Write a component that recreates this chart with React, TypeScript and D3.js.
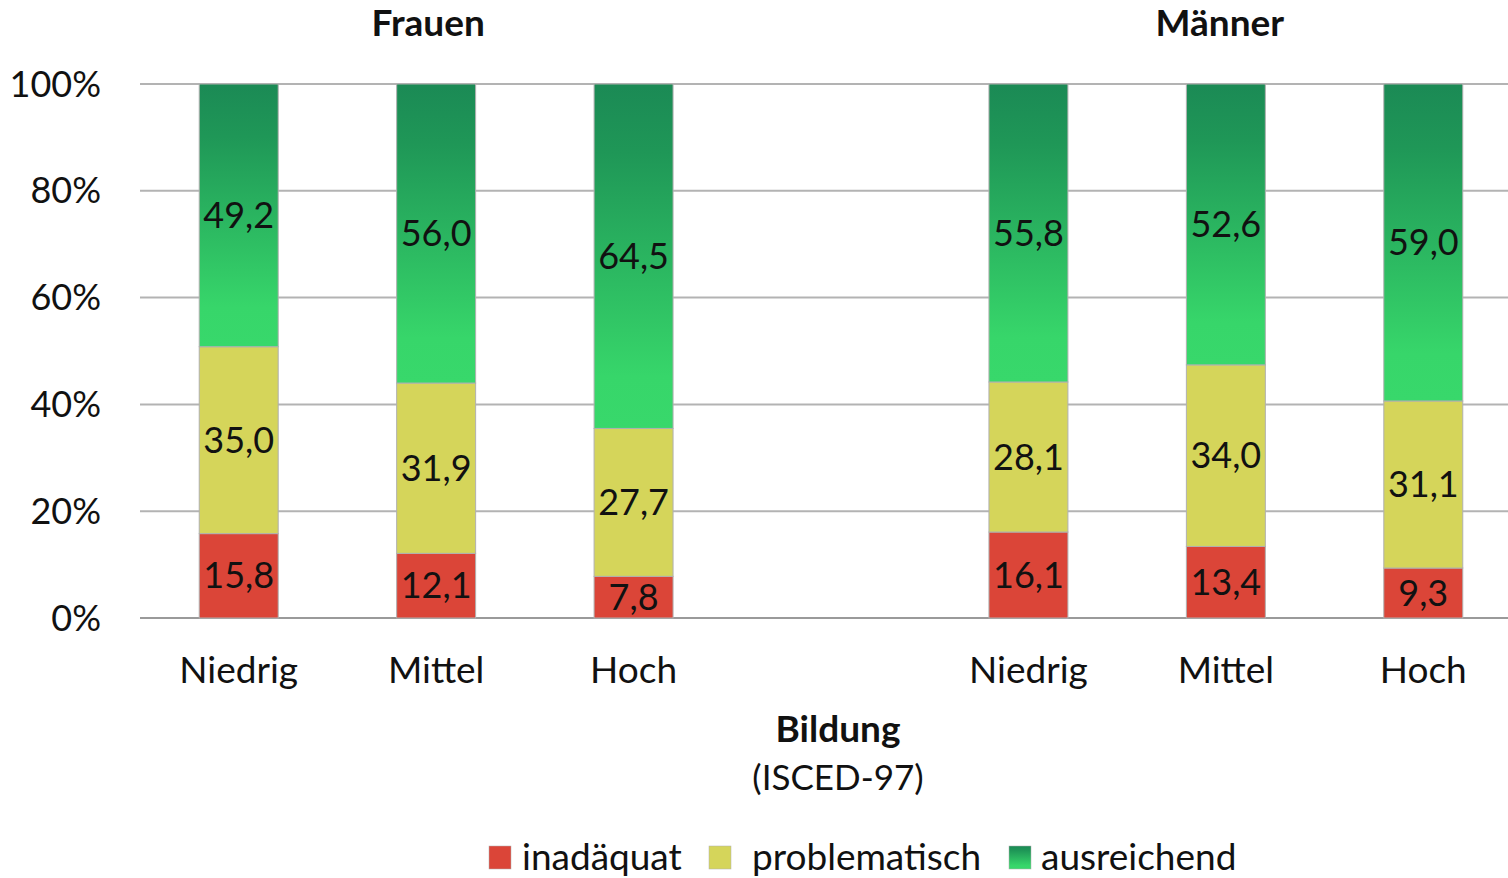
import React from "react";
import * as d3 from "d3";

const groups = ["Frauen", "Männer"];
const levels = ["Niedrig", "Mittel", "Hoch"];
const series = ["inadäquat", "problematisch", "ausreichend"];

// values per group, in levels order
const inadaequat = [[15.8, 12.1, 7.8], [16.1, 13.4, 9.3]];
const problematisch = [[35.0, 31.9, 27.7], [28.1, 34.0, 31.1]];
const ausreichend = [[49.2, 56.0, 64.5], [55.8, 52.6, 59.0]];

const yTicks = [0, 20, 40, 60, 80, 100];

const W = 1508;
const H = 878;
const font = "Lato, 'Open Sans', sans-serif";

const fmt = (v: number) => v.toFixed(1).replace(".", ",");

export default function App() {
  // 7 slots: 3 Frauen, 1 empty, 3 Männer
  const slots = ["F0", "F1", "F2", "gap", "M0", "M1", "M2"];
  const x = d3.scaleBand<string>().domain(slots).range([140, 1522]).paddingInner(0.6).paddingOuter(0.3);
  const y = d3.scaleLinear().domain([0, 100]).range([618, 84]);

  const bars: any[] = [];
  groups.forEach((g, gi) => {
    levels.forEach((lv, li) => {
      const vals = [inadaequat[gi][li], problematisch[gi][li], ausreichend[gi][li]];
      const total = d3.sum(vals);
      let acc = 0;
      const segs = vals.map((v, si) => {
        const y0 = (acc / total) * 100;
        acc += v;
        const y1 = (acc / total) * 100;
        return { v, si, y0, y1 };
      });
      bars.push({ key: (gi === 0 ? "F" : "M") + li, label: lv, segs });
    });
  });

  const fills = ["#db4538", "#d5d55a", "url(#greenGrad)"];
  const bw = x.bandwidth();
  const center = (k: string) => (x(k) as number) + bw / 2;

  return (
    <svg width={W} height={H} style={{ position: "absolute", left: 0, top: 0, background: "#fff" }} fontFamily={font}>
      <defs>
        <linearGradient id="greenGrad" x1="0" y1="0" x2="0" y2="1">
          <stop offset="0" stopColor="#1b8a55" />
          <stop offset="0.2" stopColor="#1f9757" />
          <stop offset="0.85" stopColor="#37d66a" />
          <stop offset="1" stopColor="#38d86b" />
        </linearGradient>
      </defs>

      {yTicks.map((t) => (
        <g key={t}>
          <line x1={140} x2={W} y1={y(t)} y2={y(t)} stroke={t === 0 ? "#9a9a9a" : "#b3b3b3"} strokeWidth={2} />
          <text x={101} y={y(t)} dy="0.35em" textAnchor="end" fontSize={36} fill="#111">
            {t}%
          </text>
        </g>
      ))}

      {bars.map((b) => (
        <g key={b.key}>
          {b.segs.map((s: any) => (
            <rect
              key={s.si}
              x={x(b.key)}
              y={y(s.y1)}
              width={bw}
              height={y(s.y0) - y(s.y1)}
              fill={fills[s.si]}
              stroke="#b0b0b0"
              strokeWidth={1}
            />
          ))}
          {b.segs.map((s: any) => (
            <text
              key={"t" + s.si}
              x={center(b.key)}
              y={y((s.y0 + s.y1) / 2)}
              dy="0.35em"
              textAnchor="middle"
              fontSize={36}
              fill="#111"
            >
              {fmt(s.v)}
            </text>
          ))}
          <text x={center(b.key)} y={683} textAnchor="middle" fontSize={37} fill="#111">
            {b.label}
          </text>
        </g>
      ))}

      <text x={center("F1") - 8} y={36} textAnchor="middle" fontSize={37} fontWeight="bold" fill="#111">
        {groups[0]}
      </text>
      <text x={center("M1") - 6} y={36} textAnchor="middle" fontSize={37} fontWeight="bold" fill="#111">
        {groups[1]}
      </text>

      <text x={center("gap") + 7} y={742} textAnchor="middle" fontSize={37} fontWeight="bold" fill="#111">
        Bildung
      </text>
      <text x={center("gap") + 7} y={790} textAnchor="middle" fontSize={35} fill="#111">
        (ISCED-97)
      </text>

      {series.map((s, i) => {
        const lx = [489, 709, 1009][i];
        return (
          <g key={s}>
            <rect x={lx} y={846} width={22} height={23} fill={fills[i]} stroke="#b0b0b0" strokeWidth={0.5} />
            <text x={lx + [33, 43, 32][i]} y={870} fontSize={37} fill="#111">
              {s}
            </text>
          </g>
        );
      })}
    </svg>
  );
}
